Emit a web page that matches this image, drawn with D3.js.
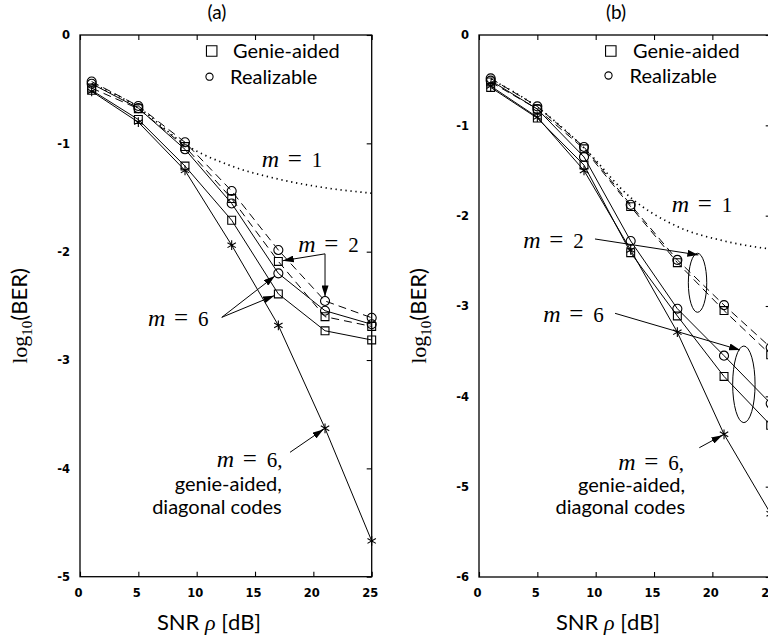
<!DOCTYPE html>
<html>
<head>
<meta charset="utf-8">
<script src="https://cdn.jsdelivr.net/npm/d3@7"></script>
<style>
  body { margin: 0; background: #fff; }
  svg { display: block; }
</style>
</head>
<body>
<svg id="chart" width="768" height="640"></svg>
<script>
// ---- data ---------------------------------------------------------------
const snr = [1, 5, 9, 13, 17, 21, 25];           // SNR rho [dB]
const xTickValues = [0, 5, 10, 15, 20, 25];
const yTickValuesA = [0, -1, -2, -3, -4, -5];
const yTickValuesB = [0, -1, -2, -3, -4, -5, -6];
const panelTitles = ["(a)", "(b)"];
const legendLabels = ["Genie-aided", "Realizable"];
const xAxisTitle = "SNR ρ [dB]";

// panel (a): log10(BER)
const aM1       = [-0.45, -0.67, -1.01, -1.21, -1.33, -1.41, -1.46];
const aM2Genie  = [-0.49, -0.68, -1.03, -1.51, -2.09, -2.60, -2.69];
const aM2Real   = [-0.43, -0.655, -0.99, -1.44, -1.985, -2.455, -2.61];
const aM6Genie  = [-0.51, -0.78, -1.21, -1.71, -2.39, -2.73, -2.815];
const aM6Real   = [-0.45, -0.675, -1.055, -1.555, -2.20, -2.545, -2.67];
const aM6Diag   = [-0.52, -0.805, -1.25, -1.94, -2.68, -3.63, -4.67];

// panel (b): log10(BER)
const bM1       = [-0.49, -0.80, -1.25, -1.80, -2.12, -2.28, -2.37];
const bM2Genie  = [-0.52, -0.82, -1.26, -1.90, -2.52, -3.05, -3.54];
const bM2Real   = [-0.48, -0.79, -1.24, -1.88, -2.49, -2.99, -3.46];
const bM6Genie  = [-0.58, -0.92, -1.44, -2.41, -3.11, -3.78, -4.32];
const bM6Real   = [-0.505, -0.82, -1.35, -2.28, -3.03, -3.55, -4.08];
const bM6Diag   = [-0.565, -0.91, -1.50, -2.38, -3.29, -4.42, -5.30];

// ---- styling -------------------------------------------------------------
const SANS = "Lato, 'Open Sans', sans-serif";
const SERIF = "'Liberation Serif', 'DejaVu Serif', serif";
const TICKFONT = "'DejaVu Sans', sans-serif";

const svg = d3.select("#chart");
svg.append("rect").attr("width", 768).attr("height", 640).attr("fill", "#fff");

const defs = svg.append("defs");
defs.append("marker")
  .attr("id", "arrowhead")
  .attr("viewBox", "0 0 11 7")
  .attr("refX", 11).attr("refY", 3.5)
  .attr("markerWidth", 11).attr("markerHeight", 7)
  .attr("markerUnits", "userSpaceOnUse")
  .attr("orient", "auto")
  .append("path").attr("d", "M0,0L11,3.5L0,7Z").attr("fill", "#000");

const symSquare = d3.symbol().type(d3.symbolSquare).size(62);
const symCircle = d3.symbol().type(d3.symbolCircle).size(64);
const symStar   = d3.symbol().type(d3.symbolAsterisk).size(66);

// "m = k" in math style: italic m, upright relation and digit
function mathLabel(g, px, py, digit, comma) {
  const t = g.append("text")
    .attr("x", px).attr("y", py)
    .attr("font-family", SERIF).attr("font-size", 21).attr("fill", "#000");
  t.append("tspan").attr("font-style", "italic").attr("font-size", 24).text("m");
  t.append("tspan").attr("x", px + 26).attr("font-size", 25).text("=");
  t.append("tspan").attr("x", px + 50).text(digit + (comma ? "," : ""));
}

function arrow(g, x1, y1, x2, y2, gap) {
  const dx = x2 - x1, dy = y2 - y1, L = Math.hypot(dx, dy);
  const ex = x2 - dx / L * gap, ey = y2 - dy / L * gap;
  g.append("line")
    .attr("x1", x1).attr("y1", y1).attr("x2", ex).attr("y2", ey)
    .attr("stroke", "#000").attr("stroke-width", 1)
    .attr("marker-end", "url(#arrowhead)");
}

function drawPanel(cfg) {
  const g = svg.append("g");
  const x = d3.scaleLinear().domain([0, 25]).range([cfg.left, cfg.left + 291.7]);
  const y = d3.scaleLinear().domain([cfg.yMin, 0]).range([cfg.bottom, 35]);
  const [x0, x1] = x.range();
  const [yb, yt] = y.range();

  // axes: ticks point inward, labels on bottom and left only
  const fmt = d => String(d);
  const bottom = g.append("g").attr("transform", `translate(0,${yb})`)
    .call(d3.axisBottom(x).tickValues(xTickValues).tickSizeInner(-5).tickSizeOuter(0)
      .tickPadding(12).tickFormat(fmt));
  bottom.selectAll("text").attr("dx", -2);
  g.append("g").attr("transform", `translate(0,${yt})`)
    .call(d3.axisTop(x).tickValues(xTickValues).tickSizeInner(-5).tickSizeOuter(0).tickFormat(""));
  g.append("g").attr("transform", `translate(${x0},0)`)
    .call(d3.axisLeft(y).tickValues(cfg.yTicks).tickSizeInner(0).tickSizeOuter(0)
      .tickPadding(10).tickFormat(fmt));
  g.append("g").attr("transform", `translate(${x1},0)`)
    .call(d3.axisRight(y).tickValues(cfg.yTicks).tickSizeInner(-5).tickSizeOuter(0).tickFormat(""));
  g.selectAll(".domain").remove();
  g.selectAll(".tick line").attr("stroke", "#000").attr("stroke-width", 1.1);
  g.selectAll(".tick text").attr("font-family", TICKFONT).attr("font-weight", "bold")
    .attr("font-size", 11.5).attr("fill", "#000");

  g.append("rect").attr("x", x0).attr("y", yt).attr("width", x1 - x0).attr("height", yb - yt)
    .attr("fill", "none").attr("stroke", "#000").attr("stroke-width", 1.3);

  // curves
  const line = d3.line().x((d, i) => x(snr[i])).y(d => y(d));
  const smooth = d3.line().x((d, i) => x(snr[i])).y(d => y(d)).curve(d3.curveMonotoneX);

  g.append("path").datum(cfg.m1).attr("d", smooth)
    .attr("fill", "none").attr("stroke", "#000").attr("stroke-width", 1.7)
    .attr("stroke-dasharray", "1.3,3.7");

  cfg.series.forEach(s => {
    g.append("path").datum(s.values).attr("d", line)
      .attr("fill", "none").attr("stroke", "#000").attr("stroke-width", 1)
      .attr("stroke-dasharray", s.dashed ? "8,5" : null);
    g.selectAll(null).data(s.values).enter().append("path")
      .attr("transform", (d, i) => `translate(${x(snr[i])},${y(d)})`)
      .attr("d", s.symbol)
      .attr("fill", "none").attr("stroke", "#000").attr("stroke-width", 1.1);
  });

  // legend
  const lg = g.append("g");
  lg.append("path").attr("transform", `translate(${cfg.legend.sq[0]},${cfg.legend.sq[1]})`)
    .attr("d", d3.symbol().type(d3.symbolSquare).size(110)())
    .attr("fill", "none").attr("stroke", "#000").attr("stroke-width", 1.1);
  lg.append("circle").attr("cx", cfg.legend.ci[0]).attr("cy", cfg.legend.ci[1]).attr("r", 3.6)
    .attr("fill", "none").attr("stroke", "#000").attr("stroke-width", 1.1);
  lg.append("text").attr("x", cfg.legend.t1[0]).attr("y", cfg.legend.t1[1])
    .attr("font-family", SANS).attr("font-size", 20).text(legendLabels[0]);
  lg.append("text").attr("x", cfg.legend.t2[0]).attr("y", cfg.legend.t2[1])
    .attr("font-family", SANS).attr("font-size", 20).text(legendLabels[1]);

  // titles
  g.append("text").attr("x", cfg.titleX).attr("y", 19).attr("text-anchor", "middle")
    .attr("font-family", SANS).attr("font-size", 19).text(cfg.title);

  const xt = g.append("text").attr("x", cfg.titleX - 8).attr("y", 630).attr("text-anchor", "middle")
    .attr("font-family", SANS).attr("font-size", 22);
  const [pre, post] = xAxisTitle.split("ρ");
  xt.append("tspan").text(pre);
  xt.append("tspan").attr("font-family", SERIF).attr("font-style", "italic").text("ρ");
  xt.append("tspan").text(post);

  const yl = g.append("text")
    .attr("transform", `translate(${cfg.ylabelX},316) rotate(-90)`)
    .attr("text-anchor", "middle").attr("font-size", 22);
  yl.append("tspan").attr("font-family", SERIF).text("log");
  yl.append("tspan").attr("font-family", SERIF).attr("font-size", 15).attr("dy", 5).text("10");
  yl.append("tspan").attr("font-family", SANS).attr("dy", -5).text("(BER)");

  // annotations
  cfg.notes(g, x, y);
}

drawPanel({
  left: 80, bottom: 576.7, yMin: -5, yTicks: yTickValuesA, title: panelTitles[0],
  titleX: 217, ylabelX: 27,
  m1: aM1,
  series: [
    { values: aM2Genie, dashed: true,  symbol: symSquare() },
    { values: aM2Real,  dashed: true,  symbol: symCircle() },
    { values: aM6Genie, dashed: false, symbol: symSquare() },
    { values: aM6Real,  dashed: false, symbol: symCircle() },
    { values: aM6Diag,  dashed: false, symbol: symStar() }
  ],
  legend: { sq: [211.7, 51], ci: [209.5, 76.7], t1: [233, 58], t2: [230, 83.5] },
  notes: (g, x, y) => {
    mathLabel(g, x(15.57), y(-1.218), "1");
    mathLabel(g, x(18.71), y(-2.0), "2");
    arrow(g, x(21.0), y(-2.02), x(snr[4]), y(aM2Genie[4]), 4.5);
    arrow(g, x(21.0), y(-2.02), x(snr[5]), y(aM2Real[5]), 4.5);
    mathLabel(g, x(5.83), y(-2.686), "6");
    arrow(g, x(12.15), y(-2.606), x(snr[4]), y(aM6Real[4]), 4.5);
    arrow(g, x(12.15), y(-2.606), x(snr[4]), y(aM6Genie[4]), 4.5);
    mathLabel(g, x(11.72), y(-3.99), "6", true);
    g.append("text").attr("x", x(17.29)).attr("y", y(-4.21)).attr("text-anchor", "end")
      .attr("font-family", SANS).attr("font-size", 20).text("genie-aided,");
    g.append("text").attr("x", x(17.29)).attr("y", y(-4.42)).attr("text-anchor", "end")
      .attr("font-family", SANS).attr("font-size", 20).text("diagonal codes");
    arrow(g, x(18.0), y(-3.852), x(snr[5]), y(aM6Diag[5]), 2);
  }
});

drawPanel({
  left: 479, bottom: 577, yMin: -6, yTicks: yTickValuesB, title: panelTitles[1],
  titleX: 616, ylabelX: 426,
  m1: bM1,
  series: [
    { values: bM2Genie, dashed: true,  symbol: symSquare() },
    { values: bM2Real,  dashed: true,  symbol: symCircle() },
    { values: bM6Genie, dashed: false, symbol: symSquare() },
    { values: bM6Real,  dashed: false, symbol: symCircle() },
    { values: bM6Diag,  dashed: false, symbol: symStar() }
  ],
  legend: { sq: [610.8, 51], ci: [608.5, 75.5], t1: [633, 58], t2: [629.5, 83] },
  notes: (g, x, y) => {
    mathLabel(g, x(16.52), y(-1.96), "1");
    mathLabel(g, x(3.8), y(-2.36), "2");
    arrow(g, x(9.94), y(-2.258), x(18.8), y(-2.435), 0);
    g.append("ellipse").attr("cx", x(18.73)).attr("cy", y(-2.743)).attr("rx", 9.2).attr("ry", 29.5)
      .attr("fill", "none").attr("stroke", "#000").attr("stroke-width", 1);
    mathLabel(g, x(5.51), y(-3.177), "6");
    arrow(g, x(11.66), y(-3.081), x(22.37), y(-3.487), 0);
    g.append("ellipse").attr("cx", x(22.7)).attr("cy", y(-3.867)).attr("rx", 11.2).attr("ry", 38.3)
      .attr("fill", "none").attr("stroke", "#000").attr("stroke-width", 1);
    mathLabel(g, x(11.94), y(-4.81), "6", true);
    g.append("text").attr("x", x(17.66)).attr("y", y(-5.06)).attr("text-anchor", "end")
      .attr("font-family", SANS).attr("font-size", 20).text("genie-aided,");
    g.append("text").attr("x", x(17.66)).attr("y", y(-5.30)).attr("text-anchor", "end")
      .attr("font-family", SANS).attr("font-size", 20).text("diagonal codes");
    arrow(g, x(18.88), y(-4.569), x(snr[5]), y(bM6Diag[5]), 2);
  }
});
</script>
</body>
</html>
